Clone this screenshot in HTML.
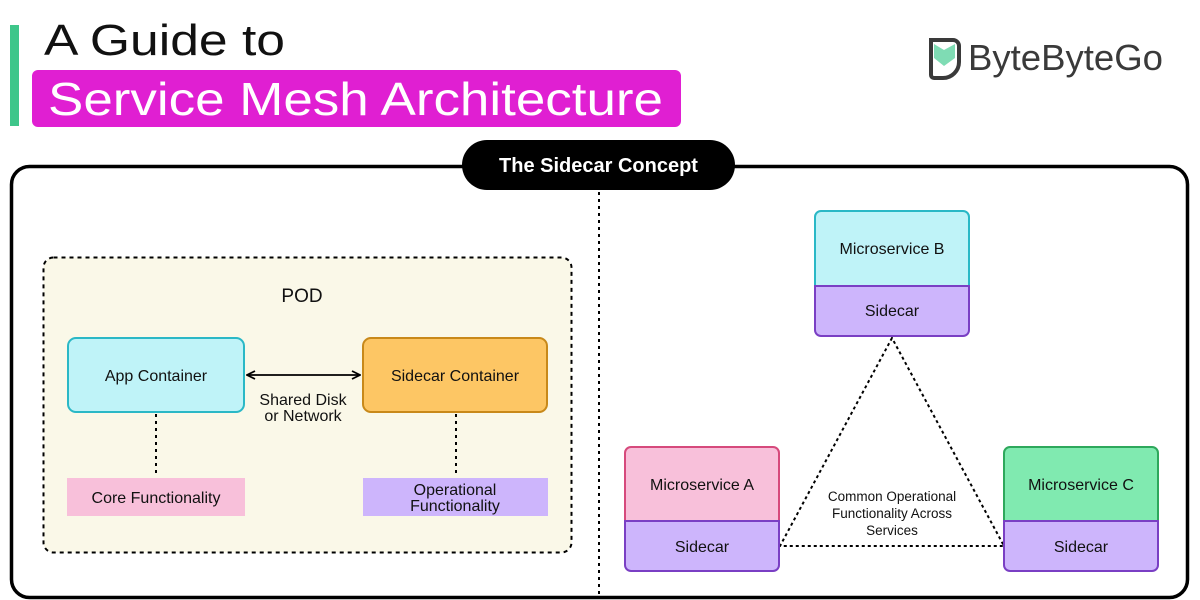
<!DOCTYPE html>
<html><head><meta charset="utf-8"><style>
html,body{margin:0;padding:0;background:#fff;}
svg{display:block;font-family:"Liberation Sans",sans-serif;}
</style></head><body>
<svg width="1200" height="600" viewBox="0 0 1200 600" xmlns="http://www.w3.org/2000/svg">
<defs>
<marker id="ah" markerWidth="10" markerHeight="10" refX="9" refY="5" orient="auto-start-reverse" markerUnits="userSpaceOnUse"><path d="M1,1 L9,5 L1,9" fill="none" stroke="#000" stroke-width="1.8"/></marker>
</defs>
<rect x="10" y="25" width="9" height="101" fill="#3ec68a"/>
<text x="44" y="55" font-size="44" fill="#111" textLength="241" lengthAdjust="spacingAndGlyphs">A Guide to</text>
<rect x="32" y="70" width="649" height="57" rx="6" fill="#e01fd2"/>
<text x="48" y="115" font-size="46" fill="#fff" textLength="615" lengthAdjust="spacingAndGlyphs">Service Mesh Architecture</text>
<g transform="translate(928,36)">
<path d="M3,4 h22 a6,6 0 0 1 6,6 v16 a16,16 0 0 1 -16,16 h-9 a3,3 0 0 1 -3,-3 z" fill="none" stroke="#3a3a3a" stroke-width="4"/>
<path d="M6,8 L16,14 L27,8 V22 L16,30 L6,22 Z" fill="#7fdcb4"/>
</g>
<text x="968" y="70" font-size="36" fill="#3a3a3a" textLength="195" lengthAdjust="spacingAndGlyphs">ByteByteGo</text>
<rect x="11.5" y="166.5" width="1176" height="431" rx="18" fill="none" stroke="#000" stroke-width="3.5"/>
<rect x="462" y="140" width="273" height="50" rx="25" fill="#000"/>
<text x="598.5" y="172" font-size="20" font-weight="bold" fill="#fff" text-anchor="middle">The Sidecar Concept</text>
<line x1="599" y1="192" x2="599" y2="598" stroke="#000" stroke-width="2" stroke-dasharray="3,4"/>
<rect x="43.5" y="257.5" width="528" height="295" rx="10" fill="#faf8e8" stroke="#000" stroke-width="2" stroke-dasharray="4,4"/>
<text x="302" y="302" font-size="19" text-anchor="middle" fill="#111">POD</text>
<rect x="68" y="338" width="176" height="74" rx="8" fill="#bff3f8" stroke="#2ab8c6" stroke-width="2"/>
<text x="156" y="381" font-size="16" text-anchor="middle" fill="#111">App Container</text>
<rect x="363" y="338" width="184" height="74" rx="8" fill="#fdc664" stroke="#c8891a" stroke-width="2"/>
<text x="455" y="381" font-size="16" text-anchor="middle" fill="#111">Sidecar Container</text>
<line x1="247" y1="375" x2="360" y2="375" stroke="#000" stroke-width="1.8" marker-start="url(#ah)" marker-end="url(#ah)"/>
<text x="303" y="405" font-size="16" text-anchor="middle" fill="#111">Shared Disk</text>
<text x="303" y="421" font-size="16" text-anchor="middle" fill="#111">or Network</text>
<line x1="156" y1="414" x2="156" y2="477" stroke="#000" stroke-width="2" stroke-dasharray="3,4"/>
<line x1="456" y1="414" x2="456" y2="477" stroke="#000" stroke-width="2" stroke-dasharray="3,4"/>
<rect x="67" y="478" width="178" height="38" fill="#f8c0da"/>
<text x="156" y="503" font-size="16" text-anchor="middle" fill="#111">Core Functionality</text>
<rect x="363" y="478" width="185" height="38" fill="#cdb5fc"/>
<text x="455" y="495" font-size="16" text-anchor="middle" fill="#111">Operational</text>
<text x="455" y="511" font-size="16" text-anchor="middle" fill="#111">Functionality</text>
<path d="M892,338 L780,546 L1004,546 Z" fill="none" stroke="#000" stroke-width="2" stroke-dasharray="3,3"/>
<text x="892" y="501" font-size="13.5" text-anchor="middle" fill="#111">Common Operational</text>
<text x="892" y="518" font-size="13.5" text-anchor="middle" fill="#111">Functionality Across</text>
<text x="892" y="535" font-size="13.5" text-anchor="middle" fill="#111">Services</text>
<path d="M815,286 V217 a6,6 0 0 1 6,-6 h142 a6,6 0 0 1 6,6 V286 Z" fill="#bff3f8" stroke="#2ab8c6" stroke-width="2"/>
<path d="M815,286 H969 V330 a6,6 0 0 1 -6,6 H821 a6,6 0 0 1 -6,-6 Z" fill="#cdb5fc" stroke="#7a3fc4" stroke-width="2"/>
<text x="892" y="254" font-size="16" text-anchor="middle" fill="#111">Microservice B</text>
<text x="892" y="316" font-size="16" text-anchor="middle" fill="#111">Sidecar</text>
<path d="M625,521 V453 a6,6 0 0 1 6,-6 h142 a6,6 0 0 1 6,6 V521 Z" fill="#f8c0da" stroke="#d64a7c" stroke-width="2"/>
<path d="M625,521 H779 V565 a6,6 0 0 1 -6,6 H631 a6,6 0 0 1 -6,-6 Z" fill="#cdb5fc" stroke="#7a3fc4" stroke-width="2"/>
<text x="702" y="490" font-size="16" text-anchor="middle" fill="#111">Microservice A</text>
<text x="702" y="552" font-size="16" text-anchor="middle" fill="#111">Sidecar</text>
<path d="M1004,521 V453 a6,6 0 0 1 6,-6 h142 a6,6 0 0 1 6,6 V521 Z" fill="#80eab0" stroke="#2ea85c" stroke-width="2"/>
<path d="M1004,521 H1158 V565 a6,6 0 0 1 -6,6 H1010 a6,6 0 0 1 -6,-6 Z" fill="#cdb5fc" stroke="#7a3fc4" stroke-width="2"/>
<text x="1081" y="490" font-size="16" text-anchor="middle" fill="#111">Microservice C</text>
<text x="1081" y="552" font-size="16" text-anchor="middle" fill="#111">Sidecar</text>
</svg>
</body></html>
